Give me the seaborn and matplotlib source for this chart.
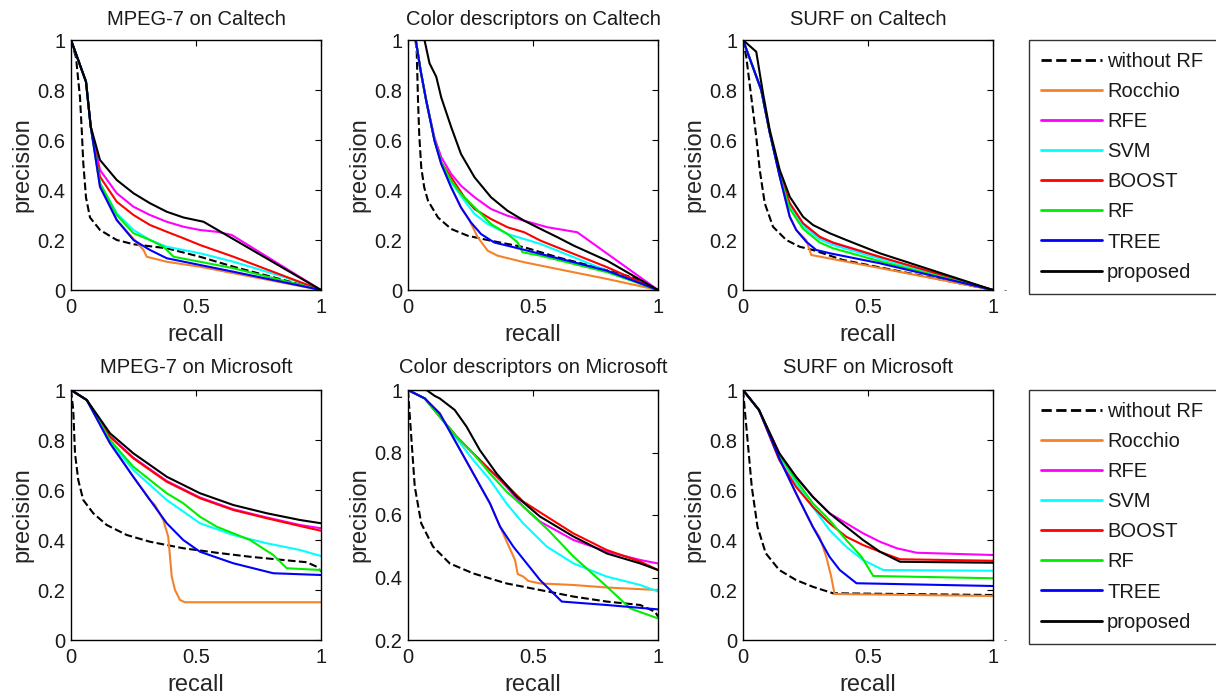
import matplotlib
matplotlib.use("Agg")
import matplotlib.pyplot as plt
from matplotlib.lines import Line2D
from matplotlib.ticker import FuncFormatter, FixedLocator
import seaborn as sns
import pandas as pd

# ---------------- data ----------------
METHODS = ["without RF", "Rocchio", "RFE", "SVM", "BOOST", "RF", "TREE", "proposed"]
COLORS = ["#000000", "#f5822a", "#ff00ff", "#00ffff", "#ff0000", "#00ee00", "#0000ff", "#000000"]
TITLES = ["MPEG-7 on Caltech", "Color descriptors on Caltech", "SURF on Caltech",
          "MPEG-7 on Microsoft", "Color descriptors on Microsoft", "SURF on Microsoft"]
XTICKS = [0, 0.5, 1]
YTICKS_FULL = [0, 0.2, 0.4, 0.6, 0.8, 1]
YTICKS_COLOR_MS = [0.2, 0.4, 0.6, 0.8, 1]

# MPEG-7 on Caltech: method -> (recall, precision)
mpeg_caltech = {
    "without RF": ([0, 0.02, 0.036, 0.043, 0.049, 0.06, 0.076, 0.116, 0.183, 0.25, 0.383, 0.516, 0.65, 0.85, 1.0],
                   [1.0, 0.93, 0.77, 0.64, 0.51, 0.37, 0.29, 0.24, 0.2, 0.183, 0.167, 0.133, 0.093, 0.04, 0.0]),
    "Rocchio": ([0, 0.06, 0.079, 0.116, 0.183, 0.25, 0.29, 0.303, 0.383, 0.516, 0.65, 1.0],
                [1, 0.833, 0.653, 0.413, 0.28, 0.205, 0.16, 0.133, 0.113, 0.093, 0.067, 0]),
    "RFE": ([0, 0.06, 0.079, 0.116, 0.183, 0.25, 0.316, 0.383, 0.45, 0.516, 0.583, 0.643, 1.0],
            [1, 0.833, 0.653, 0.48, 0.387, 0.333, 0.3, 0.273, 0.253, 0.24, 0.233, 0.22, 0]),
    "SVM": ([0, 0.06, 0.079, 0.116, 0.183, 0.25, 0.316, 0.383, 0.516, 0.65, 0.85, 1.0],
            [1, 0.833, 0.653, 0.427, 0.307, 0.24, 0.2, 0.173, 0.147, 0.113, 0.053, 0]),
    "BOOST": ([0, 0.06, 0.079, 0.116, 0.183, 0.25, 0.316, 0.383, 0.45, 0.516, 0.65, 1.0],
              [1, 0.833, 0.653, 0.453, 0.353, 0.3, 0.26, 0.233, 0.207, 0.18, 0.133, 0]),
    "RF": ([0, 0.06, 0.079, 0.116, 0.183, 0.25, 0.316, 0.37, 0.41, 0.516, 0.65, 1.0],
           [1, 0.833, 0.653, 0.427, 0.3, 0.227, 0.2, 0.173, 0.133, 0.113, 0.087, 0]),
    "TREE": ([0, 0.06, 0.079, 0.116, 0.183, 0.25, 0.316, 0.383, 0.516, 0.65, 1.0],
             [1, 0.833, 0.653, 0.413, 0.28, 0.2, 0.16, 0.127, 0.1, 0.073, 0]),
    "proposed": ([0, 0.06, 0.079, 0.116, 0.183, 0.25, 0.316, 0.383, 0.45, 0.53, 1.0],
                 [1, 0.833, 0.653, 0.52, 0.44, 0.387, 0.347, 0.313, 0.29, 0.273, 0]),
}

color_caltech = {
    "without RF": ([0.03, 0.035, 0.04, 0.045, 0.053, 0.065, 0.08, 0.12, 0.173, 0.239, 0.332, 0.465, 0.598, 0.73, 0.9, 1.0],
                   [1.0, 0.95, 0.76, 0.62, 0.49, 0.41, 0.357, 0.29, 0.244, 0.217, 0.197, 0.171, 0.131, 0.097, 0.05, 0]),
    "Rocchio": ([0.031, 0.05, 0.073, 0.106, 0.133, 0.173, 0.212, 0.245, 0.279, 0.319, 0.359, 0.465, 0.598, 0.797, 1.0],
                [1.0, 0.88, 0.757, 0.597, 0.504, 0.41, 0.33, 0.28, 0.211, 0.157, 0.137, 0.111, 0.084, 0.044, 0]),
    "RFE": ([0.031, 0.05, 0.073, 0.106, 0.133, 0.173, 0.212, 0.266, 0.332, 0.398, 0.465, 0.558, 0.677, 1.0],
            [1.0, 0.88, 0.757, 0.61, 0.531, 0.464, 0.417, 0.371, 0.324, 0.297, 0.277, 0.251, 0.231, 0]),
    "SVM": ([0.031, 0.05, 0.073, 0.106, 0.133, 0.173, 0.226, 0.266, 0.319, 0.398, 0.531, 0.664, 0.797, 1.0],
            [1.0, 0.88, 0.757, 0.6, 0.51, 0.43, 0.357, 0.304, 0.264, 0.224, 0.184, 0.131, 0.077, 0]),
    "BOOST": ([0.031, 0.05, 0.073, 0.106, 0.133, 0.173, 0.226, 0.266, 0.332, 0.398, 0.465, 0.531, 0.664, 0.797, 1.0],
              [1.0, 0.88, 0.757, 0.6, 0.51, 0.45, 0.37, 0.324, 0.284, 0.251, 0.231, 0.197, 0.144, 0.091, 0]),
    "RF": ([0.031, 0.05, 0.073, 0.106, 0.133, 0.173, 0.212, 0.266, 0.332, 0.398, 0.438, 0.458, 0.531, 0.664, 0.797, 1.0],
           [1.0, 0.88, 0.757, 0.6, 0.51, 0.437, 0.384, 0.331, 0.264, 0.224, 0.191, 0.151, 0.137, 0.104, 0.071, 0]),
    "TREE": ([0.031, 0.05, 0.073, 0.106, 0.133, 0.173, 0.212, 0.252, 0.292, 0.345, 0.452, 0.531, 0.664, 0.797, 1.0],
             [1.0, 0.88, 0.757, 0.597, 0.504, 0.41, 0.33, 0.27, 0.224, 0.19, 0.164, 0.144, 0.111, 0.077, 0]),
    "proposed": ([0.055, 0.066, 0.086, 0.113, 0.133, 0.173, 0.212, 0.266, 0.332, 0.398, 0.465, 0.531, 0.598, 0.664, 0.797, 1.0],
                 [1.0, 1.0, 0.907, 0.853, 0.77, 0.651, 0.544, 0.451, 0.371, 0.317, 0.277, 0.244, 0.211, 0.177, 0.117, 0]),
}

surf_caltech = {
    "without RF": ([0, 0.013, 0.033, 0.053, 0.067, 0.087, 0.12, 0.173, 0.227, 0.28, 0.4, 0.6, 0.8, 1.0],
                   [1, 0.933, 0.773, 0.613, 0.48, 0.347, 0.253, 0.2, 0.173, 0.16, 0.12, 0.08, 0.04, 0]),
    "Rocchio": ([0, 0.073, 0.107, 0.147, 0.187, 0.213, 0.253, 0.273, 0.547, 1.0],
                [1, 0.8, 0.63, 0.453, 0.293, 0.24, 0.2, 0.14, 0.088, 0]),
    "RFE": ([0, 0.073, 0.107, 0.147, 0.187, 0.24, 0.307, 0.36, 0.547, 1.0],
            [1, 0.8, 0.63, 0.46, 0.345, 0.265, 0.21, 0.187, 0.13, 0]),
    "SVM": ([0, 0.073, 0.107, 0.147, 0.187, 0.24, 0.307, 0.36, 0.547, 1.0],
            [1, 0.8, 0.63, 0.458, 0.335, 0.255, 0.203, 0.18, 0.125, 0]),
    "BOOST": ([0, 0.073, 0.107, 0.147, 0.187, 0.24, 0.307, 0.36, 0.547, 1.0],
              [1, 0.8, 0.63, 0.46, 0.347, 0.267, 0.213, 0.19, 0.133, 0]),
    "RF": ([0, 0.073, 0.107, 0.147, 0.187, 0.24, 0.307, 0.36, 0.547, 1.0],
           [1, 0.8, 0.63, 0.456, 0.325, 0.245, 0.19, 0.167, 0.115, 0]),
    "TREE": ([0, 0.073, 0.107, 0.147, 0.187, 0.213, 0.253, 0.293, 0.347, 0.547, 1.0],
             [1, 0.8, 0.63, 0.453, 0.293, 0.24, 0.193, 0.16, 0.147, 0.107, 0]),
    "proposed": ([0, 0.053, 0.08, 0.107, 0.147, 0.187, 0.24, 0.28, 0.347, 0.413, 0.547, 1.0],
                 [1, 0.953, 0.787, 0.64, 0.48, 0.373, 0.293, 0.26, 0.227, 0.2, 0.147, 0]),
}

mpeg_microsoft = {
    "without RF": ([0, 0.009, 0.016, 0.029, 0.049, 0.089, 0.143, 0.223, 0.316, 0.449, 0.583, 0.716, 0.849, 0.943, 0.983, 1.0],
                   [1, 0.92, 0.747, 0.64, 0.56, 0.507, 0.46, 0.42, 0.393, 0.367, 0.349, 0.333, 0.32, 0.311, 0.293, 0.275]),
    "Rocchio": ([0, 0.063, 0.156, 0.249, 0.316, 0.336, 0.369, 0.389, 0.396, 0.403, 0.416, 0.436, 0.456, 1.0],
                [1, 0.96, 0.787, 0.653, 0.56, 0.54, 0.48, 0.413, 0.333, 0.253, 0.2, 0.16, 0.151, 0.151]),
    "RFE": ([0, 0.063, 0.156, 0.249, 0.383, 0.516, 0.649, 0.783, 0.916, 1.0],
            [1, 0.96, 0.815, 0.73, 0.636, 0.57, 0.523, 0.49, 0.46, 0.447]),
    "SVM": ([0, 0.063, 0.156, 0.249, 0.316, 0.383, 0.516, 0.649, 0.783, 0.916, 1.0],
            [1, 0.96, 0.793, 0.68, 0.62, 0.56, 0.467, 0.42, 0.387, 0.36, 0.336]),
    "BOOST": ([0, 0.063, 0.156, 0.249, 0.383, 0.516, 0.649, 0.783, 0.916, 1.0],
              [1, 0.96, 0.813, 0.727, 0.633, 0.567, 0.52, 0.487, 0.456, 0.437]),
    "RF": ([0, 0.063, 0.156, 0.249, 0.316, 0.383, 0.449, 0.516, 0.583, 0.716, 0.809, 0.863, 1.0],
           [1, 0.96, 0.8, 0.693, 0.64, 0.587, 0.547, 0.493, 0.453, 0.4, 0.34, 0.287, 0.28]),
    "TREE": ([0, 0.063, 0.156, 0.249, 0.316, 0.383, 0.449, 0.516, 0.649, 0.809, 1.0],
             [1, 0.96, 0.787, 0.653, 0.56, 0.467, 0.4, 0.353, 0.307, 0.267, 0.26]),
    "proposed": ([0, 0.063, 0.156, 0.249, 0.383, 0.516, 0.649, 0.783, 0.916, 1.0],
                 [1, 0.96, 0.827, 0.747, 0.653, 0.587, 0.54, 0.507, 0.48, 0.467]),
}

color_microsoft = {
    "without RF": ([0, 0.013, 0.027, 0.053, 0.1, 0.167, 0.261, 0.394, 0.528, 0.662, 0.795, 0.929, 0.989, 1.0],
                   [1, 0.851, 0.691, 0.573, 0.499, 0.445, 0.413, 0.381, 0.36, 0.339, 0.323, 0.312, 0.29, 0.275]),
    "Rocchio": ([0, 0.067, 0.127, 0.194, 0.261, 0.328, 0.368, 0.401, 0.428, 0.439, 0.461, 0.481, 0.528, 0.662, 0.795, 1.0],
                [1, 0.973, 0.925, 0.829, 0.733, 0.637, 0.563, 0.504, 0.456, 0.411, 0.403, 0.389, 0.381, 0.376, 0.368, 0.36]),
    "RFE": ([0, 0.067, 0.127, 0.194, 0.261, 0.328, 0.394, 0.461, 0.528, 0.662, 0.795, 0.929, 1.0],
            [1, 0.973, 0.915, 0.851, 0.797, 0.744, 0.69, 0.627, 0.579, 0.52, 0.483, 0.456, 0.445]),
    "SVM": ([0, 0.067, 0.127, 0.194, 0.261, 0.328, 0.394, 0.461, 0.555, 0.662, 0.795, 0.929, 1.0],
            [1, 0.973, 0.915, 0.845, 0.776, 0.712, 0.637, 0.573, 0.499, 0.445, 0.403, 0.376, 0.355]),
    "BOOST": ([0, 0.067, 0.127, 0.194, 0.261, 0.328, 0.394, 0.461, 0.555, 0.662, 0.795, 0.929, 1.0],
              [1, 0.973, 0.915, 0.851, 0.797, 0.744, 0.696, 0.643, 0.595, 0.541, 0.488, 0.451, 0.424]),
    "RF": ([0, 0.067, 0.127, 0.194, 0.261, 0.328, 0.394, 0.461, 0.561, 0.662, 0.795, 0.889, 1.0],
           [1, 0.973, 0.915, 0.851, 0.797, 0.733, 0.675, 0.627, 0.552, 0.467, 0.371, 0.301, 0.269]),
    "TREE": ([0, 0.067, 0.127, 0.194, 0.261, 0.328, 0.368, 0.421, 0.475, 0.528, 0.615, 0.795, 1.0],
             [1, 0.973, 0.925, 0.829, 0.733, 0.637, 0.563, 0.499, 0.445, 0.392, 0.323, 0.312, 0.298]),
    "proposed": ([0, 0.074, 0.107, 0.127, 0.187, 0.234, 0.287, 0.354, 0.434, 0.528, 0.662, 0.795, 0.929, 1.0],
                 [1, 1.0, 0.981, 0.973, 0.936, 0.883, 0.808, 0.733, 0.659, 0.595, 0.531, 0.477, 0.445, 0.424]),
}

surf_microsoft = {
    "without RF": ([0, 0.017, 0.035, 0.058, 0.091, 0.145, 0.212, 0.279, 0.36, 1.0],
                   [1, 0.813, 0.613, 0.453, 0.347, 0.28, 0.24, 0.213, 0.187, 0.18]),
    "Rocchio": ([0, 0.064, 0.145, 0.212, 0.279, 0.306, 0.333, 0.353, 0.366, 1.0],
                [1, 0.92, 0.727, 0.587, 0.453, 0.413, 0.333, 0.253, 0.184, 0.176]),
    "RFE": ([0, 0.064, 0.145, 0.212, 0.279, 0.346, 0.413, 0.48, 0.548, 0.615, 0.695, 1.0],
            [1, 0.92, 0.747, 0.653, 0.573, 0.507, 0.467, 0.427, 0.393, 0.367, 0.349, 0.34]),
    "SVM": ([0, 0.064, 0.145, 0.212, 0.279, 0.346, 0.413, 0.48, 0.561, 1.0],
            [1, 0.92, 0.74, 0.627, 0.533, 0.44, 0.373, 0.32, 0.28, 0.277]),
    "BOOST": ([0, 0.064, 0.145, 0.212, 0.279, 0.346, 0.413, 0.48, 0.548, 0.628, 1.0],
              [1, 0.92, 0.72, 0.613, 0.533, 0.467, 0.413, 0.38, 0.353, 0.323, 0.317]),
    "RF": ([0, 0.064, 0.145, 0.212, 0.279, 0.346, 0.413, 0.474, 0.521, 1.0],
           [1, 0.92, 0.74, 0.64, 0.547, 0.48, 0.4, 0.333, 0.256, 0.247]),
    "TREE": ([0, 0.064, 0.145, 0.212, 0.279, 0.346, 0.387, 0.454, 1.0],
             [1, 0.92, 0.727, 0.587, 0.453, 0.333, 0.28, 0.227, 0.216]),
    "proposed": ([0, 0.064, 0.145, 0.212, 0.279, 0.346, 0.413, 0.48, 0.548, 0.628, 1.0],
                 [1, 0.92, 0.747, 0.653, 0.573, 0.507, 0.453, 0.4, 0.353, 0.313, 0.309]),
}

PANELS = [mpeg_caltech, color_caltech, surf_caltech, mpeg_microsoft, color_microsoft, surf_microsoft]

# ---------------- style ----------------
sns.set_style("white")
plt.rcParams["font.family"] = ["Liberation Sans", "DejaVu Sans"]
plt.rcParams["text.color"] = "#1a1a1a"

W, H = 1216, 698
fig = plt.figure(figsize=(W / 100, H / 100), dpi=100)

col_left = [71, 408, 743]
row_top = [40, 390]
AX_W, AX_H = 250, 250

fmt = FuncFormatter(lambda v, p: ("%g" % round(v, 3)))

for i, data in enumerate(PANELS):
    r, c = divmod(i, 3)
    left = col_left[c] / W
    bottom = 1 - (row_top[r] + AX_H) / H
    ax = fig.add_axes([left, bottom, AX_W / W, AX_H / H])
    for m, col in zip(METHODS, COLORS):
        rec, prec = data[m]
        df = pd.DataFrame({"recall": rec, "precision": prec})
        ls = "--" if m == "without RF" else "-"
        sns.lineplot(data=df, x="recall", y="precision", ax=ax, color=col,
                     estimator=None, sort=False, linewidth=1.5, linestyle=ls)
    ax.set_xlim(0, 1)
    if i == 4:
        ax.set_ylim(0.2, 1)
        ax.yaxis.set_major_locator(FixedLocator(YTICKS_COLOR_MS))
    else:
        ax.set_ylim(0, 1)
        ax.yaxis.set_major_locator(FixedLocator(YTICKS_FULL))
    ax.xaxis.set_major_locator(FixedLocator(XTICKS))
    ax.xaxis.set_major_formatter(fmt)
    ax.yaxis.set_major_formatter(fmt)
    ax.tick_params(direction="in", length=4, width=0.8, top=True, right=True,
                   labelsize=14.5, colors="black", labelcolor="#1a1a1a")
    ax.tick_params(axis="x", pad=6)
    ax.tick_params(axis="y", pad=4)
    for s in ax.spines.values():
        s.set_color("black")
        s.set_linewidth(1.0)
        s.set_visible(True)
    ax.set_xlabel("recall", fontsize=17, labelpad=5)
    ax.set_ylabel("precision", fontsize=17, labelpad=3)
    ax.set_title(TITLES[i], fontsize=14.5, pad=10.5 if r == 0 else 12)
    if ax.get_legend() is not None:
        ax.get_legend().remove()

# legends on the right (box runs past the right edge of the figure, as in the reference)
handles = [Line2D([], [], color=col, lw=2.0, linestyle="--" if m == "without RF" else "-")
           for m, col in zip(METHODS, COLORS)]
for top in row_top:
    leg = fig.legend(handles, METHODS, loc="upper left", mode="expand",
                     bbox_to_anchor=(1029 / W, 1 - (top + 250) / H, 215 / W, 250 / H),
                     bbox_transform=fig.transFigure,
                     fontsize=14.5, frameon=True, fancybox=False, edgecolor="black",
                     handlelength=3.0, handletextpad=0.28, labelspacing=0.55,
                     borderpad=0.6, borderaxespad=0)
    leg.get_frame().set_linewidth(1.0)
    fig.text(1005 / W, 1 - (top + 250) / H, "-", fontsize=7, color="#555555",
             ha="center", va="center")

fig.savefig("out.png", dpi=100)
